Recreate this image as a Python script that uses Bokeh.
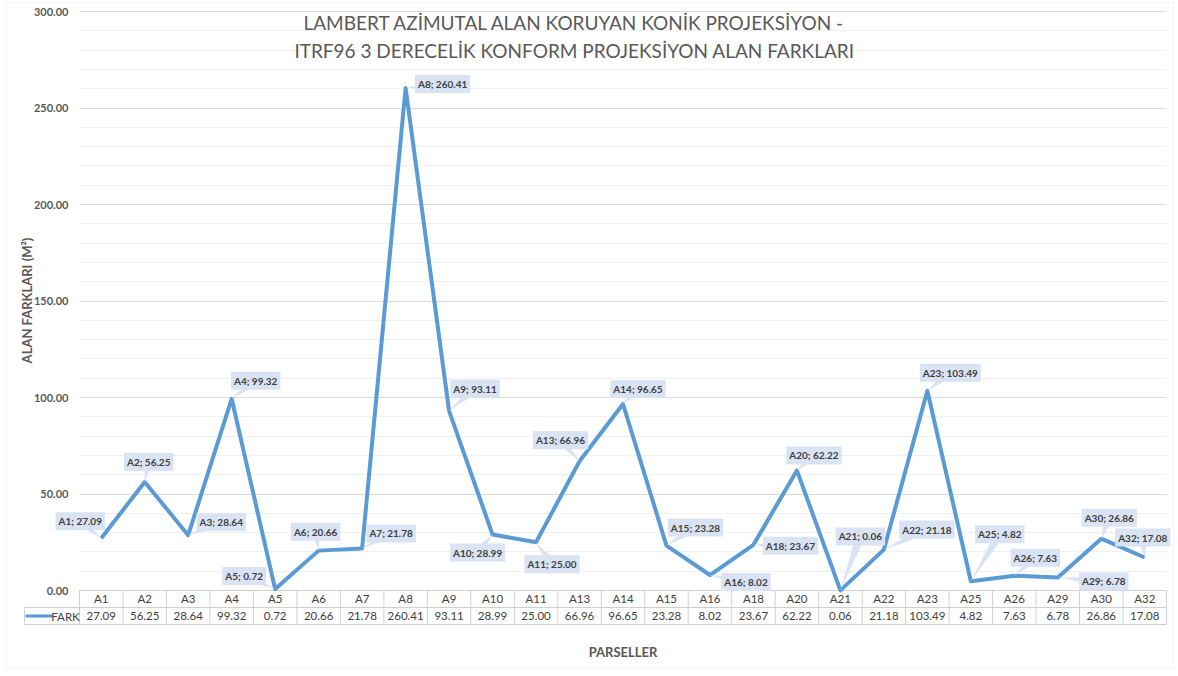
import numpy as np
from bokeh.plotting import figure
from bokeh.models import (Range1d, SingleIntervalTicker, NumeralTickFormatter, BoxAnnotation)
from bokeh.core.properties import value
from bokeh.embed import file_html
from bokeh.resources import INLINE

# ---------------- data ----------------
parcels = ["A1", "A2", "A3", "A4", "A5", "A6", "A7", "A8", "A9", "A10", "A11", "A13", "A14",
           "A15", "A16", "A18", "A20", "A21", "A22", "A23", "A25", "A26", "A29", "A30", "A32"]
fark = [27.09, 56.25, 28.64, 99.32, 0.72, 20.66, 21.78, 260.41, 93.11, 28.99, 25.00, 66.96, 96.65,
        23.28, 8.02, 23.67, 62.22, 0.06, 21.18, 103.49, 4.82, 7.63, 6.78, 26.86, 17.08]
series_name = "FARK"
title_lines = ["LAMBERT AZİMUTAL ALAN KORUYAN KONİK PROJEKSİYON -",
               "ITRF96 3 DERECELİK KONFORM PROJEKSİYON ALAN FARKLARI"]
y_title = "ALAN FARKLARI (M²)"
x_title = "PARSELLER"

# callout label offsets (pixels, right / down) – styling only
label_dx = [-21, 4, 33, 24, -31, -3, 29, 37, 26, -15, 16, -19, 15, 29, 36, 37, 17, 20, 43, 23, 29, 21, 46, 8, -2]
label_dy = [-17, -20, -13, -18, -13, -19, -15, -4, -22, 18, 22, -21, -15, -18, 7, 1, -15, -54, -20, -18, -47, -18, 4, -21, -20]

# ---------------- layout (frame = whole canvas) ----------------
W, H = 1178, 676
PL, PR = 79, 1166          # plot-area left/right px
Y300, Y0 = 11, 590         # px of 300 and 0
n = len(parcels)
sx = (PR - PL) / n
sy = (Y0 - Y300) / 300.0
x_start = -PL / sx
x_end = n + (W - PR) / sx
y_end = 300 + Y300 / sy
y_start = -(H - Y0) / sy


def px_x(px):
    return (px - PL) / sx


def px_y(py):
    return (Y0 - py) / sy


p = figure(width=W, height=H, frame_width=W, frame_height=H,
           x_range=Range1d(x_start, x_end), y_range=Range1d(y_start, y_end),
           x_axis_type=None, output_backend="svg", toolbar_location=None,
           min_border_left=0, min_border_right=0, min_border_top=0, min_border_bottom=0)
p.outline_line_color = None
p.background_fill_color = "white"
p.border_fill_color = "white"

# y axis, drawn at the plot-area's left edge
ya = p.yaxis[0]
ya.fixed_location = 0
ya.ticker = SingleIntervalTicker(interval=50, num_minor_ticks=5)
ya.formatter = NumeralTickFormatter(format="0.00")
ya.bounds = (0, 300)
ya.axis_line_color = None
ya.major_tick_line_color = None
ya.minor_tick_line_color = None
ya.major_label_standoff = 5
ya.major_label_text_font = "Lato"
ya.major_label_text_font_style = "bold"
ya.major_label_text_font_size = "11px"
ya.major_label_text_color = "#595959"

yg = p.ygrid[0]
yg.bounds = (0, 300)
yg.cross_bounds = (0, n)
yg.grid_line_color = "#d9d9d9"
yg.minor_grid_line_color = "#f0f0f0"

# chart outer border
p.add_layout(BoxAnnotation(left=px_x(6), right=px_x(1173), top=px_y(2), bottom=px_y(668),
                           fill_color=None, line_color="#dcdcdc", line_width=1, level="underlay"))

# title
p.text(x=[px_x(574)] * 2, y=[px_y(22), px_y(50)], text=title_lines,
       text_font=value("Lato"), text_font_size="19px", text_color="#595959",
       text_align="center", text_baseline="middle")

# y axis title
p.text(x=[px_x(26)], y=[px_y(300)], text=[y_title], angle=np.pi / 2,
       text_font=value("Lato"), text_font_style="bold", text_font_size="13px",
       text_color="#595959", text_align="center", text_baseline="middle")

# x axis title
p.text(x=[n / 2], y=[px_y(651)], text=[x_title], text_font=value("Lato"), text_font_style="bold",
       text_font_size="13px", text_color="#595959", text_align="center", text_baseline="middle")

# ---------------- data table ----------------
xc = np.arange(n) + 0.5
row1 = px_y(598)
row2 = px_y(615.5)
sep = px_y(607)
bot = px_y(624)
key_l = px_x(24)
tbl_color = "#d0d0d0"
p.segment(x0=[0, key_l, key_l], x1=[n, n, n], y0=[0, sep, bot], y1=[0, sep, bot],
          line_color=tbl_color, line_width=1)
vx = np.arange(n + 1)
p.segment(x0=vx, x1=vx, y0=[0] * (n + 1), y1=[bot] * (n + 1), line_color=tbl_color, line_width=1)
p.segment(x0=[key_l], x1=[key_l], y0=[sep], y1=[bot], line_color=tbl_color, line_width=1)
p.text(x=xc, y=[row1] * n, text=parcels, text_font=value("Lato"), text_font_size="11.5px",
       text_color="#404040", text_align="center", text_baseline="middle")
p.text(x=xc, y=[row2] * n, text=[f"{v:.2f}" for v in fark], text_font=value("Lato"),
       text_font_size="11.5px", text_color="#404040", text_align="center", text_baseline="middle")
# legend key
p.segment(x0=[px_x(25)], x1=[px_x(52)], y0=[row2], y1=[row2], line_color="#5b9bd5", line_width=3)
p.text(x=[px_x(65)], y=[row2], text=[series_name], text_font=value("Lato"), text_font_size="11.5px",
       text_color="#404040", text_align="center", text_baseline="middle")

# ---------------- callouts ----------------
fv = np.array(fark)
lx = xc + np.array(label_dx) / sx
ly = fv - np.array(label_dy) / sy
wx, wy = [], []
for i in range(n):
    dxp = float(label_dx[i])
    dyp = float(label_dy[i])
    L = np.hypot(dxp, dyp)
    ux, uy = -dyp / L, dxp / L
    hw = 4.5
    bx1, by1 = dxp + ux * hw, dyp + uy * hw
    bx2, by2 = dxp - ux * hw, dyp - uy * hw
    wx.append([xc[i], xc[i] + bx1 / sx, xc[i] + bx2 / sx])
    wy.append([fv[i], fv[i] - by1 / sy, fv[i] - by2 / sy])

p.line(x=xc, y=fark, line_width=4, line_color="#5b9bd5", line_join="round")

p.patches(xs=wx, ys=wy, fill_color="#dae3f3", line_color=None)
lbls = [f"{a}; {v:.2f}" for a, v in zip(parcels, fark)]
p.text(x=lx, y=ly, text=lbls, text_font=value("Lato"), text_font_style="bold", text_font_size="10px",
       text_color="#404040", text_align="center", text_baseline="middle",
       background_fill_color="#dae3f3", padding=3)

open("out.html", "w").write(file_html(p, INLINE))
